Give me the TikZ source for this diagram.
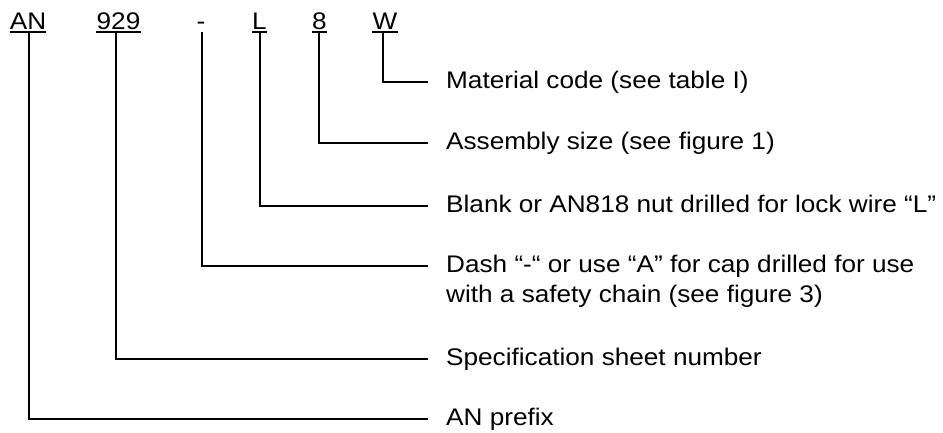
\documentclass[tikz,border=0pt]{standalone}
\usepackage{fontspec}
\setmainfont{Liberation Sans}[FakeStretch=1.09]
\begin{document}
\begin{tikzpicture}[x=1pt,y=-1pt,
  every node/.style={font=\fontsize{24pt}{30.7pt}\selectfont},
  code/.style={inner xsep=0pt, inner ysep=0pt, text depth=3pt, anchor=base},
  uline/.style={line width=1.8pt},
  conn/.style={line width=1.7pt},
  lab/.style={inner sep=0pt, anchor=base west, align=left}]
\useasboundingbox (0,0) rectangle (943,432);
% part-number codes
\node[code] (cAN) at (28,29) {AN};
\node[code] (c929) at (118.5,29) {929};
\node[code] (cD) at (201,29) {-};
\node[code] (cL) at (259.5,29) {L};
\node[code] (c8) at (319.5,29) {8};
\node[code] (cW) at (385,29) {W};
\foreach \n in {cAN,c929,cL,c8,cW}
  \draw[uline] (\n.south west) -- (\n.south east);
% elbow ends
\coordinate (eW) at (428,82);
\coordinate (e8) at (428,143);
\coordinate (eL) at (428,206);
\coordinate (eD) at (428,266);
\coordinate (e929) at (428,359);
\coordinate (eAN) at (428,419);
% labels
\node[lab] (tW) at (446,88) {Material code (see table I)};
\node[lab] (t8) at (446,149) {Assembly size (see figure 1)};
\node[lab] (tL) at (446,212) {Blank or AN818 nut drilled for lock wire “L”};
\node[lab] (tD) at (446,302.7) {Dash “-“ or use “A” for cap drilled for use\\with a safety chain (see figure 3)};
\node[lab] (t929) at (446,365) {Specification sheet number};
\node[lab] (tAN) at (446,425) {AN prefix};
% connectors
\draw[conn] ([xshift=1pt]cAN.south) |- (eAN);
\draw[conn] ([xshift=-2.5pt]c929.south) |- (e929);
\draw[conn] ([xshift=1pt]cD.south) |- (eD);
\draw[conn] ([xshift=0.5pt]cL.south) |- (eL);
\draw[conn] ([xshift=-0.5pt]c8.south) |- (e8);
\draw[conn] ([xshift=-2pt]cW.south) |- (eW);
\end{tikzpicture}
\end{document}
